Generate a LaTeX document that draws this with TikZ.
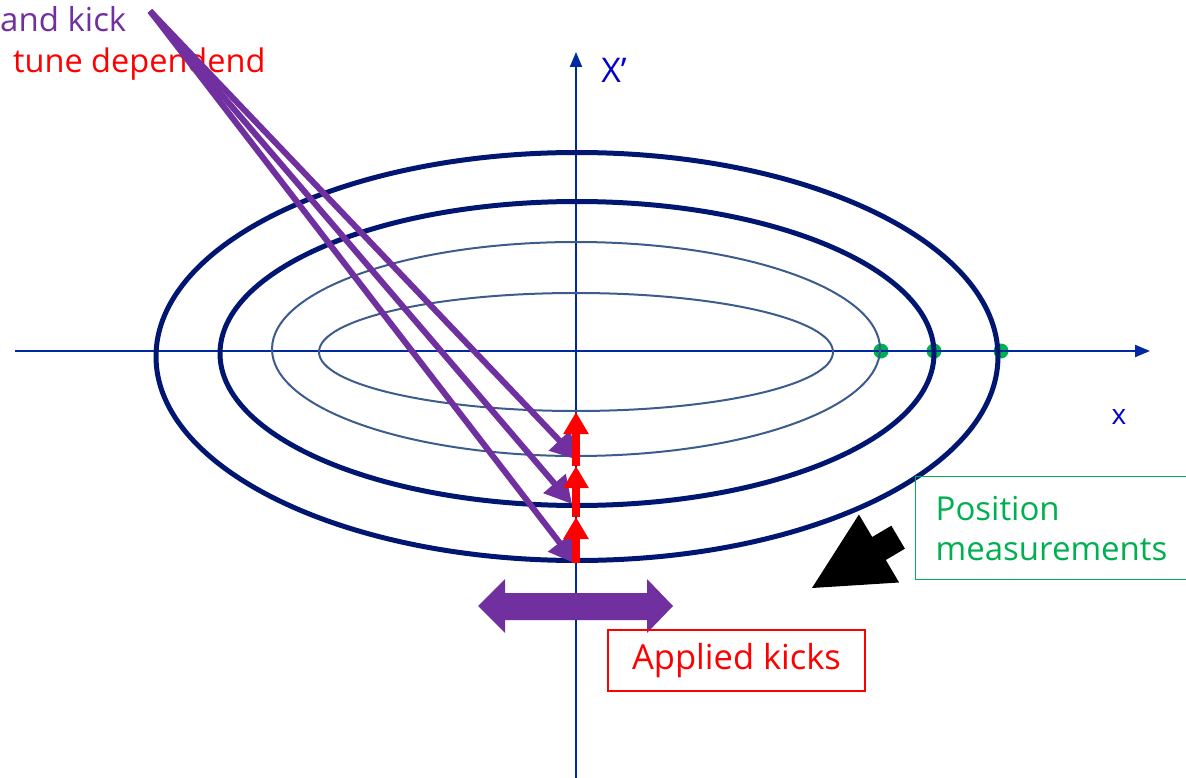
\documentclass[tikz,border=0pt]{standalone}
\usepackage{fontspec}
\setmainfont{Open Sans}
\usetikzlibrary{arrows.meta,positioning}
\definecolor{axisblue}{RGB}{0,40,160}
\definecolor{orbitthin}{RGB}{60,92,140}
\definecolor{orbitthick}{RGB}{0,22,112}
\definecolor{kickpurple}{RGB}{112,48,160}
\definecolor{labelblue}{RGB}{0,0,204}
\definecolor{posgreen}{RGB}{0,176,80}
\newcommand{\bigfont}{\fontsize{33}{40}\selectfont}
\tikzset{
  axis/.style={
    draw=axisblue,
    line width=2pt,
    -{Triangle[length=15pt,width=12pt]}
  },
  thinorbit/.style={draw=orbitthin, line width=2pt},
  thickorbit/.style={draw=orbitthick, line width=5pt},
  kickarrow/.style={draw=kickpurple, line width=6pt, -{Triangle[length=27pt,width=28pt]}},
  tunearrow/.style={draw=red, line width=8pt, -{Triangle[length=22pt,width=24pt]}},
  dot/.style={circle, fill=posgreen, inner sep=0pt, minimum size=15pt},
  textbox/.style={
    line width=1.3pt,
    inner xsep=20pt,
    font=\bigfont
  }
}
\begin{document}
\begin{tikzpicture}[x=1pt,y=-1pt]
  \useasboundingbox (0,0) rectangle (1186,778);

  % labels at the top left
  \node[anchor=base west, inner sep=0pt, text=kickpurple, font=\fontsize{33}{38}\selectfont] (kicktxt) at (0,32) {and kick};
  \node[anchor=base west, inner sep=0pt, text=red, font=\fontsize{32.5}{38}\selectfont] (tunetxt) at (13,73) {tune dependend};

  % position markers
  \node[dot] (p1) at (881,351) {};
  \node[dot] (p2) at (934,351) {};
  \node[dot] (p3) at (1001,351) {};

  % phase space axes
  \coordinate (xl) at (15,351);
  \coordinate (xr) at (1150,351);
  \coordinate (yb) at (576,790);
  \coordinate (yt) at (576,52);
  \draw[axis] (xl) -- (xr);
  \draw[axis] (yb) -- (yt);
  \node[text=labelblue, font=\fontsize{34}{34}\selectfont] (xp) at (614,70) {X'};
  \node[text=labelblue, font=\fontsize{28}{28}\selectfont] (xx) at (1119,417) {x};

  % orbits
  \draw[thinorbit] (576,352) ellipse [x radius=257pt, y radius=59pt];
  \draw[thinorbit] (576,349) ellipse [x radius=304pt, y radius=107pt];
  \draw[thickorbit] (577,353.5) ellipse [x radius=357pt, y radius=152pt];
  \draw[thickorbit] (577,356.5) ellipse [x radius=421pt, y radius=204pt];

  % kicks from the top left
  \coordinate (src) at (150,11);
  \coordinate (k1) at (578,460);
  \coordinate (k2) at (572,504);
  \coordinate (k3) at (576,564);
  \draw[kickarrow] (src) -- (k1);
  \draw[kickarrow] (src) -- (k2);
  \draw[kickarrow] (src) -- (k3);

  % tune steps
  \coordinate (t0) at (576,563);
  \coordinate (t1) at (576,517);
  \coordinate (t2) at (576,466);
  \coordinate (t3) at (576,412);
  \draw[tunearrow] (t0) -- (t1);
  \draw[tunearrow] (t1) -- (t2);
  \draw[tunearrow] (t2) -- (t3);

  % applied kick, both ways
  \fill[kickpurple] (478,606) -- (505,579) -- (505,593) -- (647,593) -- (647,579)
    -- (673,606) -- (647,633) -- (647,620) -- (505,620) -- (505,633) -- cycle;

  % pointer to the orbit
  \fill[black] (812,588) -- (858.9,514.5) -- (872.2,537) -- (891.3,525.7)
    -- (904.9,548.7) -- (885.8,560) -- (899.1,582.5) -- cycle;

  \node[textbox, draw=red, text=red, font=\fontsize{34.5}{40}\selectfont, minimum width=257pt, minimum height=61pt] (applied) at (736.5,660.5) {Applied kicks};
  \node[textbox, draw=posgreen, text=posgreen, anchor=north west, text width=240pt, align=left,
    minimum height=103pt] (posmeas) at (915,476) {Position\\measurements};
\end{tikzpicture}
\end{document}
